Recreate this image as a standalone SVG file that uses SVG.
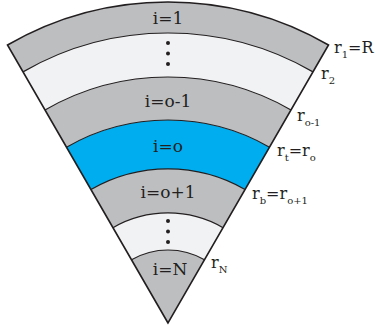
<svg xmlns="http://www.w3.org/2000/svg" width="375" height="328" viewBox="0 0 375 328">
<style>
.g{fill:#bcbec0}
.w{fill:#f1f2f3}
.b{fill:#00aeef}
.arc{fill:none;stroke:#231f20;stroke-width:1.2}
.side{fill:none;stroke:#231f20;stroke-width:1.6;stroke-linejoin:miter}
text{font-family:"DejaVu Serif","Liberation Serif",serif;fill:#231f20}
.lab{font-size:17px;text-anchor:middle}
.r{font-size:16px}
.s{font-size:10px}
.dot{fill:#231f20}
</style>
<g id="band-1">
<path class="g" d="M7.5,45 A321,321 0 0 1 328.5,45 L313,71.86 A290,290 0 0 0 23,71.86 Z"/>
<text class="lab" x="168" y="24">i=1</text>
</g>
<g id="band-dots-top">
<path class="w" d="M23,71.86 A290,290 0 0 1 313,71.86 L291,109.96 A246,246 0 0 0 45,109.96 Z"/>
<circle class="dot" cx="168" cy="43" r="2"/>
<circle class="dot" cx="168" cy="53.5" r="2"/>
<circle class="dot" cx="168" cy="64" r="2"/>
</g>
<g id="band-o-1">
<path class="g" d="M45,109.96 A246,246 0 0 1 291,109.96 L269.5,147.2 A203,203 0 0 0 66.5,147.2 Z"/>
<text class="lab" x="168" y="107">i=o-1</text>
</g>
<g id="band-o">
<path class="b" d="M66.5,147.2 A203,203 0 0 1 269.5,147.2 L245,189.6 A154,154 0 0 0 91,189.6 Z"/>
<text class="lab" x="168" y="152">i=o</text>
</g>
<g id="band-o+1">
<path class="g" d="M91,189.6 A154,154 0 0 1 245,189.6 L223,227.7 A110,110 0 0 0 113,227.7 Z"/>
<text class="lab" x="168" y="198">i=o+1</text>
</g>
<g id="band-dots-bottom">
<path class="w" d="M113,227.7 A110,110 0 0 1 223,227.7 L204.5,259.8 A73,73 0 0 0 131.5,259.8 Z"/>
<circle class="dot" cx="168" cy="221" r="2"/>
<circle class="dot" cx="168" cy="231.5" r="2"/>
<circle class="dot" cx="168" cy="242" r="2"/>
</g>
<g id="band-N">
<path class="g" d="M131.5,259.8 A73,73 0 0 1 204.5,259.8 L168,323 Z"/>
<text class="lab" x="170" y="275">i=N</text>
</g>
<g id="connectors">
<path class="arc" d="M23,71.86 A290,290 0 0 1 313,71.86"/>
<path class="arc" d="M45,109.96 A246,246 0 0 1 291,109.96"/>
<path class="arc" d="M66.5,147.2 A203,203 0 0 1 269.5,147.2"/>
<path class="arc" d="M91,189.6 A154,154 0 0 1 245,189.6"/>
<path class="arc" d="M113,227.7 A110,110 0 0 1 223,227.7"/>
<path class="arc" d="M131.5,259.8 A73,73 0 0 1 204.5,259.8"/>
<path class="side" d="M168,323 L7.5,45 A321,321 0 0 1 328.5,45 Z"/>
</g>
<g id="labels">
<text class="r" x="334" y="53">r<tspan class="s" dy="5">1</tspan><tspan dy="-5">=R</tspan></text>
<text class="r" x="321" y="79">r<tspan class="s" dy="5">2</tspan></text>
<text class="r" x="297" y="121">r<tspan class="s" dy="5">o-1</tspan></text>
<text class="r" x="277" y="156">r<tspan class="s" dy="5">t</tspan><tspan dy="-5">=r</tspan><tspan class="s" dy="5">o</tspan></text>
<text class="r" x="252" y="199">r<tspan class="s" dy="5">b</tspan><tspan dy="-5">=r</tspan><tspan class="s" dy="5">o+1</tspan></text>
<text class="r" x="211" y="268">r<tspan class="s" dy="5">N</tspan></text>
</g>
</svg>
